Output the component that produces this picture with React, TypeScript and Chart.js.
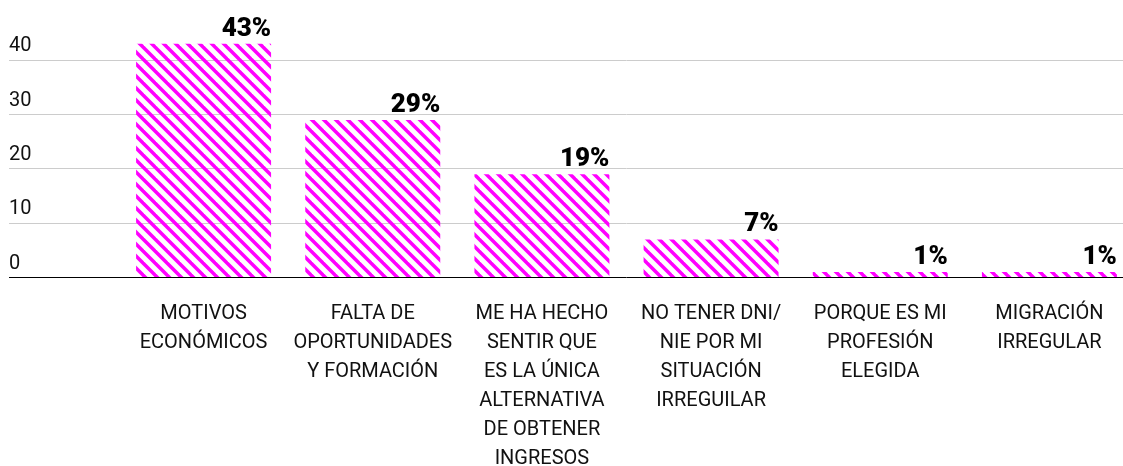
import React, { useEffect, useRef } from "react";
import { Chart, registerables } from "chart.js";

Chart.register(...registerables);

const categories: string[][] = [
  ["MOTIVOS", "ECONÓMICOS"],
  ["FALTA DE", "OPORTUNIDADES", "Y FORMACIÓN"],
  ["ME HA HECHO", "SENTIR QUE", "ES LA ÚNICA", "ALTERNATIVA", "DE OBTENER", "INGRESOS"],
  ["NO TENER DNI/", "NIE POR MI", "SITUACIÓN", "IRREGUILAR"],
  ["PORQUE ES MI", "PROFESIÓN", "ELEGIDA"],
  ["MIGRACIÓN", "IRREGULAR"],
];
const values: number[] = [43, 29, 19, 7, 1, 1];
const yTicks: number[] = [0, 10, 20, 30, 40];

function makeHatch(ctx: CanvasRenderingContext2D) {
  const s = 12;
  const c = document.createElement("canvas");
  c.width = s;
  c.height = s;
  const g = c.getContext("2d")!;
  g.clearRect(0, 0, s, s);
  g.strokeStyle = "#ff00ff";
  g.lineWidth = 3.5;
  for (const k of [-1, 0, 1]) {
    g.beginPath();
    g.moveTo(-s, -s + k * s);
    g.lineTo(2 * s, 2 * s + k * s);
    g.stroke();
  }
  return ctx.createPattern(c, "repeat");
}

const valueLabelPlugin = {
  id: "valueLabels",
  afterDatasetsDraw(chart: any) {
    const ctx = chart.ctx as CanvasRenderingContext2D;
    const meta = chart.getDatasetMeta(0);
    ctx.save();
    ctx.font = "900 26px Roboto";
    ctx.fillStyle = "#000000";
    ctx.textAlign = "right";
    ctx.textBaseline = "alphabetic";
    meta.data.forEach((el: any, i: number) => {
      const { x, y, width } = el.getProps(["x", "y", "width"], true);
      ctx.fillText(`${values[i]}%`, x + width / 2, y - 8);
    });
    ctx.restore();
  },
};

export default function App() {
  const canvasRef = useRef<HTMLCanvasElement | null>(null);

  useEffect(() => {
    const canvas = canvasRef.current;
    if (!canvas) return;
    const ctx = canvas.getContext("2d")!;
    const pattern = makeHatch(ctx);
    const tickFont = { family: "Roboto", size: 20, lineHeight: 1.45 };
    const chart = new Chart(canvas, {
      type: "bar",
      data: {
        labels: categories,
        datasets: [
          {
            data: values,
            backgroundColor: pattern as any,
            borderWidth: 0,
            barPercentage: 0.798,
            categoryPercentage: 1,
          },
        ],
      },
      options: {
        animation: false,
        responsive: true,
        maintainAspectRatio: false,
        layout: { padding: { left: 9, top: 33, right: 0, bottom: 0 } },
        plugins: {
          legend: { display: false },
          tooltip: { enabled: false },
        },
        scales: {
          x: {
            grid: { display: false },
            border: { display: false },
            ticks: {
              font: tickFont,
              color: "#111111",
              maxRotation: 0,
              minRotation: 0,
              autoSkip: false,
              padding: 14,
            },
            afterFit: (s: any) => {
              s.height = 188.5;
            },
          },
          y: {
            min: 0,
            max: 45,
            afterBuildTicks: (s: any) => {
              s.ticks = yTicks.map((v) => ({ value: v }));
            },
            afterFit: (s: any) => {
              s.width = 110;
            },
            border: { display: false },
            grid: {
              color: (c: any) => (c.tick && c.tick.value === 0 ? "#000000" : "#cccccc"),
              lineWidth: 1,
              drawTicks: true,
              tickLength: 110,
            },
            ticks: {
              font: tickFont,
              color: "#111111",
              crossAlign: "far",
              labelOffset: -14,
              padding: 0,
            },
          },
        },
      },
      plugins: [valueLabelPlugin],
    });
    return () => chart.destroy();
  }, []);

  return (
    <div style={{ position: "fixed", top: 0, left: 0, width: 1123, height: 466, overflow: "hidden", background: "#fff" }}>
      <div style={{ position: "relative", width: 1134, height: 466 }}>
        <canvas ref={canvasRef} />
      </div>
    </div>
  );
}
